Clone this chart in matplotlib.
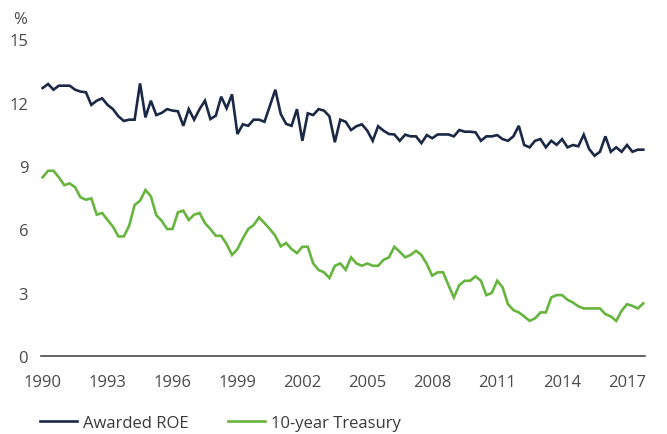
import numpy as np
import matplotlib
matplotlib.use("Agg")
import matplotlib.pyplot as plt

# Quarterly observations starting 1990 Q1
start_year = 1990
roe = [12.70, 12.89, 12.62, 12.81, 12.81, 12.81, 12.62, 12.53, 12.50, 11.90,
       12.10, 12.21, 11.90, 11.70, 11.36, 11.14, 11.20, 11.20, 12.92, 11.31,
       12.10, 11.42, 11.52, 11.70, 11.63, 11.60, 10.91, 11.70, 11.20, 11.70,
       12.10, 11.23, 11.39, 12.29, 11.74, 12.40, 10.52, 10.98, 10.91, 11.20,
       11.20, 11.10, 11.86, 12.62, 11.47, 11.00, 10.91, 11.70, 10.20, 11.50,
       11.42, 11.70, 11.63, 11.36, 10.13, 11.20, 11.10, 10.71, 10.89, 10.98,
       10.68, 10.20, 10.89, 10.68, 10.52, 10.50, 10.20, 10.49, 10.41, 10.41,
       10.09, 10.47, 10.32, 10.50, 10.50, 10.50, 10.41, 10.71, 10.63, 10.63,
       10.60, 10.20, 10.41, 10.41, 10.47, 10.28, 10.20, 10.41, 10.91, 10.00,
       9.89, 10.20, 10.28, 9.89, 10.20, 10.01, 10.28, 9.89, 10.00, 9.94,
       10.49, 9.81, 9.49, 9.68, 10.41, 9.68, 9.89, 9.68, 10.00, 9.68,
       9.78, 9.78]
treasury = [8.47, 8.78, 8.78, 8.47, 8.10, 8.18, 8.00, 7.52, 7.41, 7.47,
            6.70, 6.78, 6.45, 6.13, 5.67, 5.67, 6.18, 7.16, 7.36, 7.87,
            7.57, 6.68, 6.41, 6.02, 6.02, 6.81, 6.89, 6.45, 6.70, 6.78,
            6.30, 6.02, 5.70, 5.70, 5.31, 4.79, 5.07, 5.58, 6.02, 6.21,
            6.57, 6.30, 6.02, 5.70, 5.20, 5.36, 5.07, 4.88, 5.18, 5.18,
            4.39, 4.08, 3.97, 3.70, 4.28, 4.39, 4.09, 4.68, 4.39, 4.28,
            4.39, 4.28, 4.28, 4.56, 4.68, 5.18, 4.94, 4.68, 4.79, 4.99,
            4.79, 4.36, 3.81, 3.97, 3.97, 3.36, 2.78, 3.36, 3.57, 3.57,
            3.78, 3.57, 2.89, 2.99, 3.57, 3.26, 2.46, 2.18, 2.07, 1.88,
            1.67, 1.79, 2.07, 2.07, 2.78, 2.89, 2.89, 2.67, 2.54, 2.36,
            2.26, 2.26, 2.26, 2.26, 1.99, 1.88, 1.67, 2.15, 2.46, 2.38,
            2.26, 2.50]
series_names = ["Awarded ROE", "10-year Treasury"]
year_ticks = [1990, 1993, 1996, 1999, 2002, 2005, 2008, 2011, 2014, 2017]
value_ticks = [0, 3, 6, 9, 12, 15]

x_roe = start_year + np.arange(len(roe)) / 4.0
x_tsy = start_year + np.arange(len(treasury)) / 4.0

plt.rcParams['font.family'] = ['Open Sans', 'DejaVu Sans']

fig = plt.figure(figsize=(6.67, 4.35), dpi=100)
ax = fig.add_axes([0.061, 0.179, 0.906, 0.728])

navy = '#1b2846'
green = '#67b43f'
ax.plot(x_roe, roe, color=navy, lw=1.9, label=series_names[0], solid_joinstyle='miter')
ax.plot(x_tsy, treasury, color=green, lw=1.9, label=series_names[1], solid_joinstyle='miter')

ax.set_ylim(0, 15)
ax.set_xlim(1989.91, 2017.83)
ax.set_yticks(value_ticks)
ax.set_xticks(year_ticks)
ax.set_xticklabels([str(y) for y in year_ticks])
for s in ['left', 'right', 'top']:
    ax.spines[s].set_visible(False)
ax.spines['bottom'].set_color('#3a3a3a')
ax.spines['bottom'].set_linewidth(1.1)
ax.tick_params(axis='both', length=0, labelsize=12, labelcolor='#4a4a4a')
ax.tick_params(axis='x', pad=13)
ax.tick_params(axis='y', pad=9)

fig.text(20 / 667, 1 - 19.5 / 435, '%', fontsize=12, color='#4a4a4a',
         ha='center', va='center')

leg = fig.legend(loc='center left', bbox_to_anchor=(25 / 667, 1 - 424 / 435),
                 ncol=2, frameon=False, fontsize=12, handlelength=2.2,
                 handletextpad=0.4, columnspacing=2.35, labelcolor='#3a3a3a')

fig.savefig('out.png', dpi=100)
